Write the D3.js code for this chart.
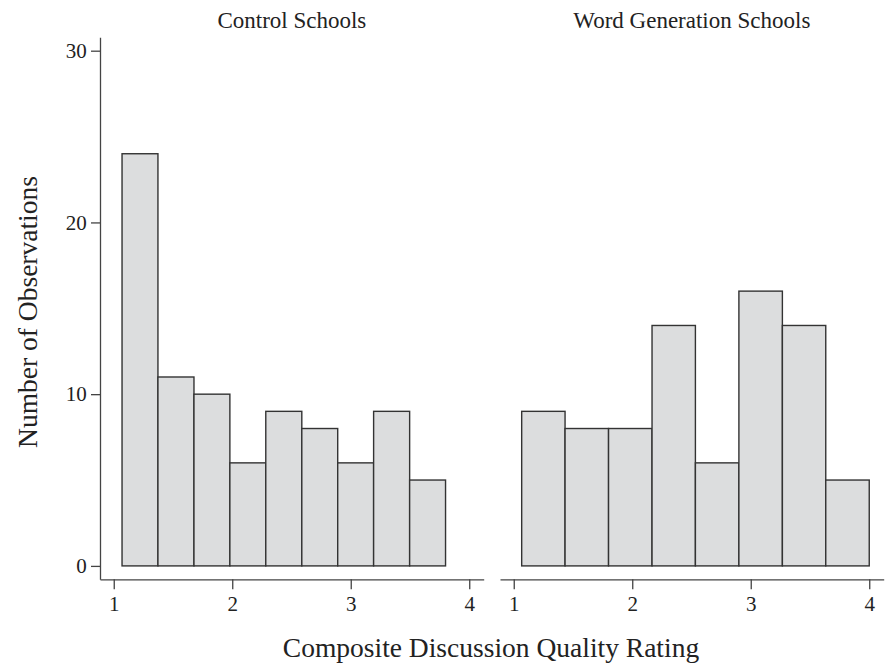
<!DOCTYPE html>
<html>
<head>
<meta charset="utf-8">
<script src="https://cdn.jsdelivr.net/npm/d3@7"></script>
<style>
  body { margin: 0; background: #fff; }
  text { font-family: "Liberation Serif", "Times New Roman", serif; fill: #222; }
</style>
</head>
<body>
<div id="chart"></div>
<script>
// panel titles
let panelTitles = ["Control Schools", "Word Generation Schools"];

// bin edges (rating units)
let controlEdges = [1.07, 1.373, 1.677, 1.98, 2.283, 2.587, 2.89, 3.193, 3.497, 3.80];
let wordgenEdges = [1.067, 1.433, 1.8, 2.167, 2.533, 2.9, 3.267, 3.633, 4.0];

// counts per bin
let controlCounts = [24, 11, 10, 6, 9, 8, 6, 9, 5];
let wordgenCounts = [9, 8, 8, 14, 6, 16, 14, 5];

// axis ticks
let xTicks = [1, 2, 3, 4];
let yTicks = [0, 10, 20, 30];

let width = 886;
let height = 668;

let svg = d3.select("#chart")
  .append("svg")
  .attr("width", width)
  .attr("height", height);

// shared y scale
let yScale = d3.scaleLinear()
  .domain([-0.78, 30.78])
  .range([579.3, 37.3]);

// two panels side by side
let panels = [
  { title: panelTitles[0], edges: controlEdges, counts: controlCounts, left: 100, right: 483.7, yAxis: true },
  { title: panelTitles[1], edges: wordgenEdges, counts: wordgenCounts, left: 500, right: 883.7, yAxis: false }
];

panels.forEach(function(p) {
  let xScale = d3.scaleLinear()
    .domain([0.884, 4.122])
    .range([p.left, p.right]);

  let bins = p.counts.map(function(c, i) {
    return { x0: p.edges[i], x1: p.edges[i + 1], n: c };
  });

  // bars
  svg.append("g")
    .selectAll("rect")
    .data(bins)
    .enter()
    .append("rect")
    .attr("x", function(d) { return xScale(d.x0); })
    .attr("width", function(d) { return xScale(d.x1) - xScale(d.x0); })
    .attr("y", function(d) { return yScale(d.n); })
    .attr("height", function(d) { return yScale(0) - yScale(d.n); })
    .attr("fill", "#dcddde")
    .attr("stroke", "#333")
    .attr("stroke-width", 1.4);

  // x axis
  let xAxis = d3.axisBottom(xScale)
    .tickValues(xTicks)
    .tickSize(10)
    .tickSizeOuter(0)
    .tickPadding(7)
    .tickFormat(d3.format("d"));

  let gx = svg.append("g")
    .attr("transform", "translate(0," + yScale.range()[0] + ")")
    .call(xAxis);
  gx.selectAll("path, line").attr("stroke", "#444").attr("stroke-width", 1.3);
  gx.selectAll("text").attr("font-size", 21).attr("font-family", null);

  // y axis only on left panel
  if (p.yAxis) {
    let yAxis = d3.axisLeft(yScale)
      .tickValues(yTicks)
      .tickSize(9)
      .tickSizeOuter(0)
      .tickPadding(4.3);

    let gy = svg.append("g")
      .attr("transform", "translate(" + p.left + ",0)")
      .call(yAxis);
    gy.selectAll("path, line").attr("stroke", "#444").attr("stroke-width", 1.3);
    gy.selectAll("text").attr("font-size", 21).attr("font-family", null);
  }

  // panel title
  svg.append("text")
    .attr("x", (p.left + p.right) / 2)
    .attr("y", 28)
    .attr("text-anchor", "middle")
    .attr("font-size", 23)
    .text(p.title);
});

// axis titles
svg.append("text")
  .attr("x", 491)
  .attr("y", 656.5)
  .attr("text-anchor", "middle")
  .attr("font-size", 27.5)
  .text("Composite Discussion Quality Rating");

svg.append("text")
  .attr("transform", "translate(36.5,312)rotate(-90)")
  .attr("text-anchor", "middle")
  .attr("font-size", 27.5)
  .text("Number of Observations");
</script>
</body>
</html>
